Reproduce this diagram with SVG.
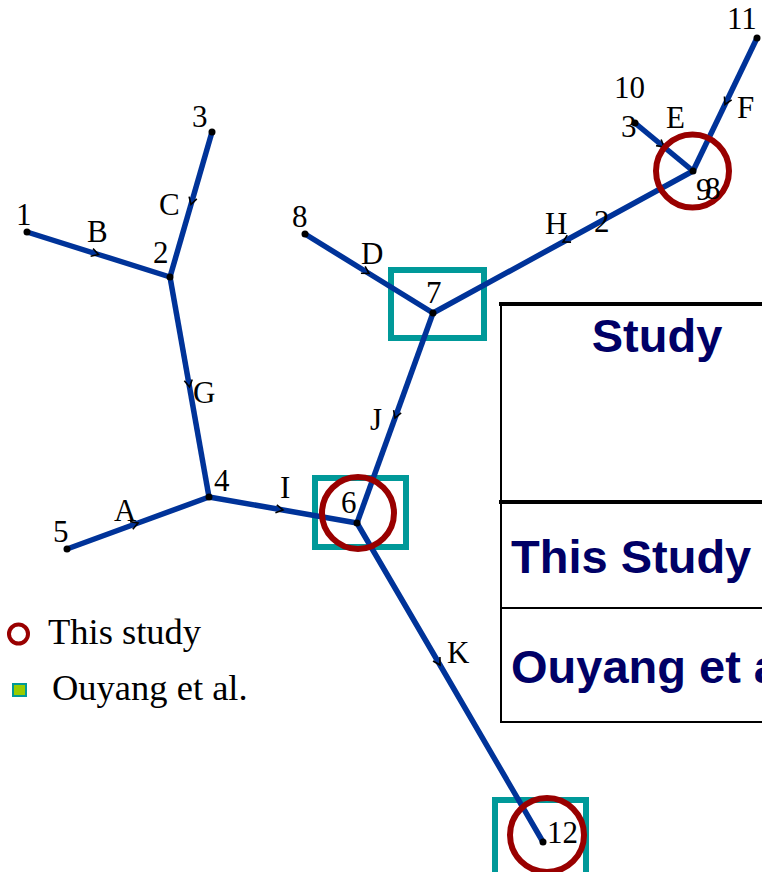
<svg xmlns="http://www.w3.org/2000/svg" width="762" height="872" viewBox="0 0 762 872">
  <style>
    .edge { fill: none; stroke: #003399; stroke-width: 5.5; stroke-linejoin: miter; marker-mid: url(#arr); }
    .box { fill: none; stroke: #009999; stroke-width: 6; }
    .ring { fill: none; stroke: #990000; stroke-width: 6; }
    .dot { fill: #000; }
    .lbl { font-family: "Liberation Serif", "Times New Roman", serif; font-size: 31px; fill: #000; }
    .leg { font-family: "Liberation Serif", "Times New Roman", serif; font-size: 36.5px; fill: #000; }
    .tbl { font-family: "Liberation Sans", Arial, sans-serif; font-weight: bold; font-size: 47px; fill: #000066; }
    .thick { stroke: #000; stroke-width: 4; }
    .thin { stroke: #000; stroke-width: 2; }
  </style>
  <defs>
    <marker id="arr" markerUnits="userSpaceOnUse" markerWidth="16" markerHeight="16" refX="0" refY="0" viewBox="-9 -8 16 16" orient="auto">
      <path d="M-7,-4 L0,0 L-7,4" fill="none" stroke="#000" stroke-width="1.6"/>
    </marker>
  </defs>

  <!-- study highlight boxes -->
  <g id="boxes">
    <rect class="box" x="391" y="270" width="93" height="68"/>
    <rect class="box" x="315" y="478" width="91" height="69"/>
    <rect class="box" x="495" y="800" width="91" height="80"/>
  </g>

  <!-- branches, each drawn from start node through its midpoint to end node -->
  <g id="connectors">
    <path id="e-B" class="edge" d="M27,232 L98.5,254.5 L170,277"/>
    <path id="e-C" class="edge" d="M212,132 L191,204.5 L170,277"/>
    <path id="e-G" class="edge" d="M170,277 L189.5,387 L209,497"/>
    <path id="e-A" class="edge" d="M67,549 L138,523 L209,497"/>
    <path id="e-I" class="edge" d="M209,497 L283,510 L357,523"/>
    <path id="e-J" class="edge" d="M433,313 L395,418 L357,523"/>
    <path id="e-K" class="edge" d="M357,523 L440,665 L543,842"/>
    <path id="e-D" class="edge" d="M305,234 L369,273.5 L433,313"/>
    <path id="e-H" class="edge" d="M693,171 L563,242 L433,313"/>
    <path id="e-E" class="edge" d="M635,123 L664,147 L693,171"/>
    <path id="e-F" class="edge" d="M757,38 L725,104.5 L693,171"/>
  </g>

  <!-- circled nodes -->
  <g id="rings">
    <circle class="ring" cx="358" cy="513" r="36"/>
    <circle class="ring" cx="692.5" cy="171" r="36.5"/>
    <circle class="ring" cx="547" cy="835" r="37"/>
  </g>

  <g id="n1"><circle class="dot" cx="27" cy="232" r="3.5"/><text class="lbl" x="16" y="225">1</text></g>
  <g id="n2"><circle class="dot" cx="170" cy="277" r="3.5"/><text class="lbl" x="153" y="263">2</text></g>
  <g id="n3"><circle class="dot" cx="212" cy="132" r="3.5"/><text class="lbl" x="192" y="127">3</text></g>
  <g id="n4"><circle class="dot" cx="209" cy="497" r="3.5"/><text class="lbl" x="214" y="491">4</text></g>
  <g id="n5"><circle class="dot" cx="67" cy="549" r="3.5"/><text class="lbl" x="53" y="542">5</text></g>
  <g id="n6"><circle class="dot" cx="357" cy="523" r="3.5"/><text class="lbl" x="341" y="513">6</text></g>
  <g id="n7"><circle class="dot" cx="433" cy="313" r="3.5"/><text class="lbl" x="426" y="303">7</text></g>
  <g id="n8"><circle class="dot" cx="305" cy="234" r="3.5"/><text class="lbl" x="292" y="227">8</text></g>
  <g id="n9"><circle class="dot" cx="693" cy="171" r="3.5"/><text class="lbl" x="696" y="200">9</text><text class="lbl" x="705" y="199">8</text></g>
  <g id="n10"><circle class="dot" cx="635" cy="123" r="3.5"/><text class="lbl" x="614" y="98">10</text><text class="lbl" x="621" y="137">3</text></g>
  <g id="n11"><circle class="dot" cx="757" cy="38" r="3.5"/><text class="lbl" x="727" y="29">11</text></g>
  <g id="n12"><circle class="dot" cx="543" cy="842" r="3.5"/><text class="lbl" x="547" y="843">12</text></g>

  <!-- branch letters -->
  <g id="branch-labels">
    <text class="lbl" x="87" y="242">B</text>
    <text class="lbl" x="159" y="215">C</text>
    <text class="lbl" x="193" y="403">G</text>
    <text class="lbl" x="114" y="521">A</text>
    <text class="lbl" x="280" y="498">I</text>
    <text class="lbl" x="370" y="430">J</text>
    <text class="lbl" x="447" y="663">K</text>
    <text class="lbl" x="361" y="264">D</text>
    <text class="lbl" x="545" y="234">H</text>
    <text class="lbl" x="594" y="232">2</text>
    <text class="lbl" x="666" y="128">E</text>
    <text class="lbl" x="737" y="118">F</text>
  </g>

  <!-- legend -->
  <g id="legend">
    <circle cx="18.5" cy="634" r="9.5" fill="none" stroke="#990000" stroke-width="4"/>
    <text class="leg" x="48" y="644">This study</text>
    <rect x="13" y="684" width="13" height="12" fill="#99cc00" stroke="#009999" stroke-width="2"/>
    <text class="leg" x="52" y="700">Ouyang et al.</text>
  </g>

  <!-- comparison table; the right part runs past the drawing's edge -->
  <g id="table">
    <line class="thick" x1="499" y1="304" x2="762" y2="304"/>
    <line class="thin" x1="501" y1="303" x2="501" y2="723"/>
    <line class="thick" x1="499" y1="502" x2="762" y2="502"/>
    <line class="thin" x1="501" y1="608" x2="762" y2="608"/>
    <line class="thin" x1="501" y1="722" x2="762" y2="722"/>
    <text class="tbl" x="657" y="352" text-anchor="middle">Study</text>
    <text class="tbl" x="511" y="573">This Study</text>
    <text class="tbl" x="511" y="683">Ouyang et al.</text>
  </g>
</svg>
